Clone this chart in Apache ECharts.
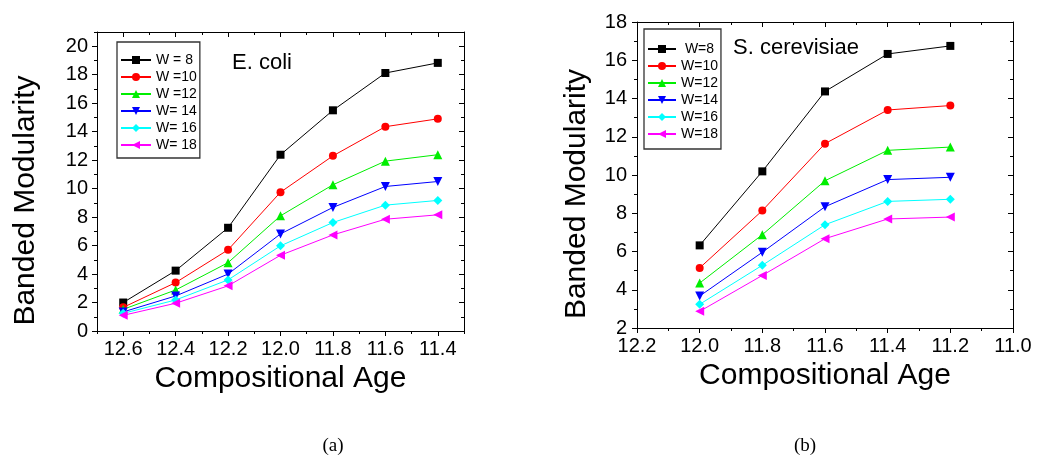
<!DOCTYPE html>
<html>
<head>
<meta charset="utf-8">
<script src="https://cdn.jsdelivr.net/npm/echarts@6/dist/echarts.min.js"></script>
<style>
  html, body { margin: 0; padding: 0; background: #ffffff; }
  #chart { width: 1038px; height: 462px; }
</style>
</head>
<body>
<div id="chart"></div>
<script>
// ---------- data: (a) E. coli ----------
const ecoliAge = [12.6, 12.4, 12.2, 12.0, 11.8, 11.6, 11.4];
const ecoliNames = ['W = 8', 'W =10', 'W =12', 'W= 14', 'W= 16', 'W= 18'];
const ecoliW8  = [2.0, 4.24, 7.25, 12.38, 15.5, 18.12, 18.83];
const ecoliW10 = [1.66, 3.4, 5.7, 9.75, 12.3, 14.35, 14.9];
const ecoliW12 = [1.52, 2.88, 4.8, 8.09, 10.27, 11.93, 12.38];
const ecoliW14 = [1.34, 2.46, 4.0, 6.82, 8.68, 10.15, 10.5];
const ecoliW16 = [1.24, 2.18, 3.59, 5.98, 7.62, 8.84, 9.17];
const ecoliW18 = [1.1, 1.95, 3.17, 5.32, 6.75, 7.85, 8.16];
const ecoliAgeTicks = [12.6, 12.4, 12.2, 12.0, 11.8, 11.6, 11.4];
const ecoliValueTicks = [0, 2, 4, 6, 8, 10, 12, 14, 16, 18, 20];

// ---------- data: (b) S. cerevisiae ----------
const yeastAge = [12.0, 11.8, 11.6, 11.4, 11.2];
const yeastNames = [' W=8', 'W=10', 'W=12', 'W=14', 'W=16', 'W=18'];
const yeastW8  = [6.32, 10.19, 14.37, 16.33, 16.75];
const yeastW10 = [5.14, 8.14, 11.64, 13.4, 13.63];
const yeastW12 = [4.35, 6.88, 9.7, 11.29, 11.46];
const yeastW14 = [3.67, 5.96, 8.34, 9.76, 9.88];
const yeastW16 = [3.24, 5.28, 7.4, 8.62, 8.73];
const yeastW18 = [2.87, 4.75, 6.67, 7.7, 7.8];
const yeastAgeTicks = [12.2, 12.0, 11.8, 11.6, 11.4, 11.2, 11.0];
const yeastValueTicks = [2, 4, 6, 8, 10, 12, 14, 16, 18];

// ---------- styling ----------
const colors = ['#000000', '#ff0000', '#00ee00', '#0000ff', '#00ffff', '#ff00ff'];
const symbols = ['rect', 'circle', 'triangle', 'triangle', 'diamond', 'triangle'];
const rotates = [0, 0, 0, 180, 0, 90];
const sizes = [8, 8, 9, 9, 9, 9];
const FONT = 'Liberation Sans, Arial, sans-serif';

function axisPair(dim, gridIndex, opts) {
  const major = {
    type: 'value', gridIndex: gridIndex, position: opts.position,
    min: opts.min, max: opts.max, inverse: !!opts.inverse,
    axisLine: { show: true, onZero: false, lineStyle: { color: '#000', width: 1 } },
    axisTick: { show: true, inside: opts.inside, length: 5, customValues: opts.majors, lineStyle: { color: '#000', width: 1 } },
    axisLabel: opts.labels ? {
      show: true, customValues: opts.majors, margin: opts.labelMargin,
      color: '#000', fontFamily: FONT, fontSize: 20,
      formatter: opts.fmt
    } : { show: false },
    splitLine: { show: false },
    z: 5
  };
  if (opts.name) {
    major.name = opts.name;
    major.nameLocation = 'middle';
    major.nameGap = opts.nameGap;
    major.nameTextStyle = { color: '#000', fontFamily: FONT, fontSize: 30, padding: opts.namePad || 0 };
  }
  const minor = {
    type: 'value', gridIndex: gridIndex, position: opts.position,
    min: opts.min, max: opts.max, interval: opts.minorInterval, inverse: !!opts.inverse,
    axisLine: { show: false, onZero: false },
    axisTick: { show: true, inside: opts.inside, length: 3, lineStyle: { color: '#000', width: 1 } },
    axisLabel: { show: false },
    splitLine: { show: false },
    z: 4
  };
  return [major, minor];
}

const xAxes = [].concat(
  axisPair('x', 0, { min: 11.3, max: 12.7, majors: ecoliAgeTicks, minorInterval: 0.1, position: 'bottom', inside: false, labels: true, inverse: true,
    labelMargin: 8, fmt: v => Number(v).toFixed(1), name: 'Compositional Age', nameGap: 30 }),
  axisPair('x', 0, { min: 11.3, max: 12.7, majors: ecoliAgeTicks, minorInterval: 0.1, position: 'top', inside: true, labels: false, inverse: true }),
  axisPair('x', 1, { min: 11.0, max: 12.2, majors: yeastAgeTicks, minorInterval: 0.1, position: 'bottom', inside: false, labels: true, inverse: true,
    labelMargin: 8, fmt: v => Number(v).toFixed(1), name: 'Compositional Age', nameGap: 32 }),
  axisPair('x', 1, { min: 11.0, max: 12.2, majors: yeastAgeTicks, minorInterval: 0.1, position: 'top', inside: true, labels: false, inverse: true })
);
const yAxes = [].concat(
  axisPair('y', 0, { min: 0, max: 21, majors: ecoliValueTicks, minorInterval: 1, position: 'left', inside: false, labels: true,
    labelMargin: 9, fmt: v => String(v), name: 'Banded Modularity', nameGap: 56, namePad: [0, 38, 0, 0] }),
  axisPair('y', 0, { min: 0, max: 21, majors: ecoliValueTicks, minorInterval: 1, position: 'right', inside: true, labels: false }),
  axisPair('y', 1, { min: 2, max: 18, majors: yeastValueTicks, minorInterval: 1, position: 'left', inside: false, labels: true,
    labelMargin: 10, fmt: v => String(v), name: 'Banded Modularity', nameGap: 45, namePad: [0, 38, 0, 0] }),
  axisPair('y', 1, { min: 2, max: 18, majors: yeastValueTicks, minorInterval: 1, position: 'right', inside: true, labels: false })
);

function buildSeries(names, ages, valueLists, axisIndex) {
  return valueLists.map((vals, i) => ({
    type: 'line',
    name: names[i],
    xAxisIndex: axisIndex,
    yAxisIndex: axisIndex,
    data: ages.map((a, k) => [a, vals[k]]),
    symbol: symbols[i],
    symbolRotate: rotates[i],
    symbolSize: sizes[i],
    showAllSymbol: true,
    lineStyle: { color: colors[i], width: 1 },
    itemStyle: { color: colors[i] },
    emphasis: { disabled: true },
    z: 10 + i
  }));
}

const series = [].concat(
  buildSeries(ecoliNames, ecoliAge, [ecoliW8, ecoliW10, ecoliW12, ecoliW14, ecoliW16, ecoliW18], 0),
  buildSeries(yeastNames, yeastAge, [yeastW8, yeastW10, yeastW12, yeastW14, yeastW16, yeastW18], 4)
);

const legendCommon = {
  orient: 'vertical', selectedMode: false,
  backgroundColor: '#ffffff', borderColor: '#333333', borderWidth: 1.3,
  itemHeight: 10, itemGap: 1,
  textStyle: { color: '#000', fontFamily: FONT, fontSize: 14, lineHeight: 16 }
};

const option = {
  animation: false,
  backgroundColor: '#ffffff',
  grid: [
    { left: 97, top: 32, width: 367, height: 299, containLabel: false },
    { left: 637, top: 22, width: 376, height: 306, containLabel: false }
  ],
  xAxis: xAxes,
  yAxis: yAxes,
  legend: [
    Object.assign({}, legendCommon, { data: ecoliNames, left: 117, top: 42, itemWidth: 30, padding: [10, 3, 5, 3] }),
    Object.assign({}, legendCommon, { data: yeastNames, left: 644, top: 29, itemWidth: 28, padding: [12, 3, 7, 3] })
  ],
  graphic: [
    { type: 'text', left: 232, top: 52, z: 100, style: { text: 'E. coli', fill: '#000', font: '22px ' + FONT } },
    { type: 'text', left: 733, top: 37, z: 100, style: { text: 'S. cerevisiae', fill: '#000', font: '22px ' + FONT } },
    { type: 'text', x: 333, y: 446, z: 100, style: { text: '(a)', fill: '#000', font: '19px Liberation Serif, serif', align: 'center', verticalAlign: 'middle' } },
    { type: 'text', x: 805, y: 446, z: 100, style: { text: '(b)', fill: '#000', font: '19px Liberation Serif, serif', align: 'center', verticalAlign: 'middle' } }
  ],
  series: series
};

const chart = echarts.init(document.getElementById('chart'), null, { renderer: 'canvas' });
chart.setOption(option);
</script>
</body>
</html>
